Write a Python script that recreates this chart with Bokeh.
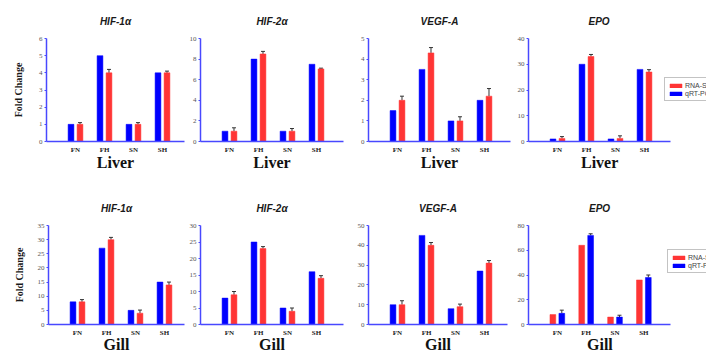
import numpy as np
from bokeh.plotting import figure
from bokeh.layouts import column, row
from bokeh.models import (ColumnDataSource, FixedTicker, Whisker, TeeHead, Legend,
                          LegendItem, Range1d, Title)
from bokeh.transform import dodge
from bokeh.embed import file_html
from bokeh.resources import INLINE

categories = ["FN", "FH", "SN", "SH"]
genes = ["HIF-1α", "HIF-2α", "VEGF-A", "EPO"]
tissues = ["Liver", "Gill"]
series_names = ["RNA-Seq", "qRT-PCR"]

# Liver (left bar = qRT-PCR blue, right bar = RNA-Seq red with error)
liver_hif1a_left = [1, 5, 1, 4]
liver_hif1a_right = [1, 4, 1, 4]
liver_hif1a_err = [0.1, 0.2, 0.1, 0.1]
liver_hif2a_left = [1, 8, 1, 7.5]
liver_hif2a_right = [1, 8.5, 1, 7.05]
liver_hif2a_err = [0.33, 0.25, 0.26, 0.07]
liver_vegfa_left = [1.5, 3.5, 1.0, 2.0]
liver_vegfa_right = [2.0, 4.3, 1.0, 2.2]
liver_vegfa_err = [0.2, 0.26, 0.2, 0.37]
liver_epo_left = [1, 30, 1, 28]
liver_epo_right = [1.2, 33, 1.2, 27]
liver_epo_err = [0.7, 0.8, 1.0, 0.9]

# Gill
gill_hif1a_left = [8, 27, 5, 15]
gill_hif1a_right = [8, 30, 4, 14]
gill_hif1a_err = [0.8, 0.8, 1.1, 1.0]
gill_hif2a_left = [8, 25, 5, 16]
gill_hif2a_right = [9, 23, 4, 14]
gill_hif2a_err = [1.0, 0.6, 1.0, 0.8]
gill_vegfa_left = [10, 45, 8, 27]
gill_vegfa_right = [10, 40, 9, 31]
gill_vegfa_err = [2.0, 1.4, 1.3, 1.3]
gill_epo_left = [8, 64, 6, 36]      # red (RNA-Seq) on the left in this panel
gill_epo_right = [9, 72, 6, 38]     # blue (qRT-PCR) on the right
gill_epo_err = [2.6, 1.3, 1.5, 2.0]

liver_ymax = [6, 10, 5, 40]
liver_ystep = [1, 2, 1, 10]
gill_ymax = [35, 30, 50, 80]
gill_ystep = [5, 5, 10, 20]

BLUE = "#0000ff"
RED = "#ff3535"
AXIS = "#4848ff"

liver_data = [(liver_hif1a_left, liver_hif1a_right, liver_hif1a_err),
              (liver_hif2a_left, liver_hif2a_right, liver_hif2a_err),
              (liver_vegfa_left, liver_vegfa_right, liver_vegfa_err),
              (liver_epo_left, liver_epo_right, liver_epo_err)]
gill_data = [(gill_hif1a_left, gill_hif1a_right, gill_hif1a_err),
             (gill_hif2a_left, gill_hif2a_right, gill_hif2a_err),
             (gill_vegfa_left, gill_vegfa_right, gill_vegfa_err),
             (gill_epo_left, gill_epo_right, gill_epo_err)]

PX_PER_CAT = 29.0


def make_panel(gene, tissue, left_vals, right_vals, errs, left_color, right_color,
               ymax, ystep, fig_w, fig_h, left, frame_w, axis_w, top, frame_h,
               show_ylabel, ylabel_standoff, title_standoff, xlabel_standoff, legend_pos,
               tissue_width):
    right_b = fig_w - left - frame_w
    bottom_b = fig_h - top - frame_h
    p = figure(width=fig_w, height=fig_h, output_backend="svg", toolbar_location=None,
               x_range=Range1d(0, frame_w / PX_PER_CAT), y_range=Range1d(0, ymax),
               min_border_left=left, min_border_right=right_b,
               min_border_top=top, min_border_bottom=bottom_b, title=gene)
    p.outline_line_color = None
    p.xgrid.visible = False
    p.ygrid.visible = False
    p.background_fill_color = "white"
    p.border_fill_color = "white"

    xs = list(range(1, len(categories) + 1))
    src = ColumnDataSource(dict(
        x=xs, a=left_vals, b=right_vals,
        etop=[v + e for v, e in zip(right_vals, errs)]))
    r1 = p.vbar(x=dodge("x", -0.155, range=p.x_range), top="a", width=0.2, source=src,
                fill_color=left_color, line_color=left_color, line_width=0.5)
    r2 = p.vbar(x=dodge("x", 0.155, range=p.x_range), top="b", width=0.2, source=src,
                fill_color=right_color, line_color=right_color, line_width=0.5)
    w = Whisker(source=src, base=dodge("x", 0.155, range=p.x_range), lower="b", upper="etop",
                dimension="height", line_color="#333333", line_width=1,
                lower_head=None,
                upper_head=TeeHead(size=4, line_color="#333333", line_width=1))
    p.add_layout(w)

    partial_axis = axis_w < frame_w

    # title
    p.title.text_font = "Liberation Sans"
    p.title.text_font_style = "bold italic"
    p.title.text_font_size = "10px"
    p.title.text_color = "#1a1a1a"
    p.title.standoff = title_standoff
    if partial_axis:
        p.title.align = "left"
        p.title.offset = axis_w / 2 - 11
    else:
        p.title.align = "center"

    # y axis
    ya = p.yaxis[0]
    ya.ticker = FixedTicker(ticks=list(range(0, ymax + 1, ystep)))
    ya.axis_line_color = AXIS
    ya.axis_line_width = 1.5
    ya.major_tick_line_color = AXIS
    ya.major_tick_out = 2
    ya.major_tick_in = 0
    ya.minor_tick_out = 0
    ya.minor_tick_in = 0
    ya.major_label_text_font = "Liberation Serif"
    ya.major_label_text_font_size = "7px"
    ya.major_label_text_color = "#555555"
    ya.major_label_standoff = 2
    if show_ylabel:
        ya.axis_label = "Fold Change"
        ya.axis_label_text_font = "Liberation Serif"
        ya.axis_label_text_font_style = "bold"
        ya.axis_label_text_font_size = "10px"
        ya.axis_label_text_color = "#1a1a1a"
        ya.axis_label_standoff = ylabel_standoff

    # x axis
    xa = p.xaxis[0]
    xa.ticker = FixedTicker(ticks=xs)
    xa.bounds = (0, axis_w / PX_PER_CAT)
    xa.major_label_overrides = {x: c for x, c in zip(xs, categories)}
    xa.axis_line_color = AXIS
    xa.axis_line_width = 1.5
    xa.major_tick_out = 0
    xa.major_tick_in = 0
    xa.minor_tick_out = 0
    xa.minor_tick_in = 0
    xa.major_label_text_font = "Liberation Serif"
    xa.major_label_text_font_style = "bold"
    xa.major_label_text_font_size = "7px"
    xa.major_label_text_color = "#222222"
    xa.major_label_standoff = 4
    if partial_axis:
        t = Title(text=tissue, align="left", vertical_align="top",
                  offset=axis_w / 2 - tissue_width / 2, standoff=xlabel_standoff - 3,
                  text_font="Liberation Serif", text_font_style="bold",
                  text_font_size="16px", text_color="#111111")
        p.add_layout(t, "below")
    else:
        xa.axis_label = tissue
        xa.axis_label_text_font = "Liberation Serif"
        xa.axis_label_text_font_style = "bold"
        xa.axis_label_text_font_size = "16px"
        xa.axis_label_text_color = "#111111"
        xa.axis_label_standoff = xlabel_standoff

    if legend_pos is not None:
        red_r = r2 if right_color == RED else r1
        blue_r = r1 if left_color == BLUE else r2
        lg = Legend(items=[LegendItem(label=series_names[0], renderers=[red_r]),
                           LegendItem(label=series_names[1], renderers=[blue_r])],
                    location=legend_pos)
        lg.border_line_color = "#888888"
        lg.border_line_width = 1
        lg.padding = 3
        lg.margin = 0
        lg.spacing = 0
        lg.glyph_width = 15
        lg.glyph_height = 5
        lg.label_height = 8
        lg.label_standoff = 2
        lg.label_text_font = "Liberation Sans"
        lg.label_text_font_size = "7px"
        lg.label_text_color = "#444444"
        lg.background_fill_alpha = 1
        p.add_layout(lg)
    return p


# geometry per column: (fig width, left border, frame width, axis length)
row1_geom = [(186, 46, 138, 138), (166, 14, 143, 143), (162, 16, 142, 142), (192, 14, 178, 142)]
row2_geom = [(186, 48, 136, 136), (166, 14, 143, 143), (162, 16, 139, 139), (192, 13, 179, 143)]
tissue_text_width = [37, 26]

row1 = []
for i, g in enumerate(genes):
    l, r, e = liver_data[i]
    fw, lb, frw, aw = row1_geom[i]
    row1.append(make_panel(g, tissues[0], l, r, e, BLUE, RED,
                           liver_ymax[i], liver_ystep[i], fw, 176, lb, frw, aw, 38, 103,
                           i == 0, 12, 24, -3,
                           (136, 40) if i == 3 else None, tissue_text_width[0]))
row2 = []
for i, g in enumerate(genes):
    l, r, e = gill_data[i]
    fw, lb, frw, aw = row2_geom[i]
    lc, rc = (RED, BLUE) if i == 3 else (BLUE, RED)
    row2.append(make_panel(g, tissues[1], l, r, e, lc, rc,
                           gill_ymax[i], gill_ystep[i], fw, 182, lb, frw, aw, 49, 99,
                           i == 0, 10, 24, -4,
                           (139, 51) if i == 3 else None, tissue_text_width[1]))

layout = column(row(*row1), row(*row2))
open("out.html", "w").write(file_html(layout, INLINE))
